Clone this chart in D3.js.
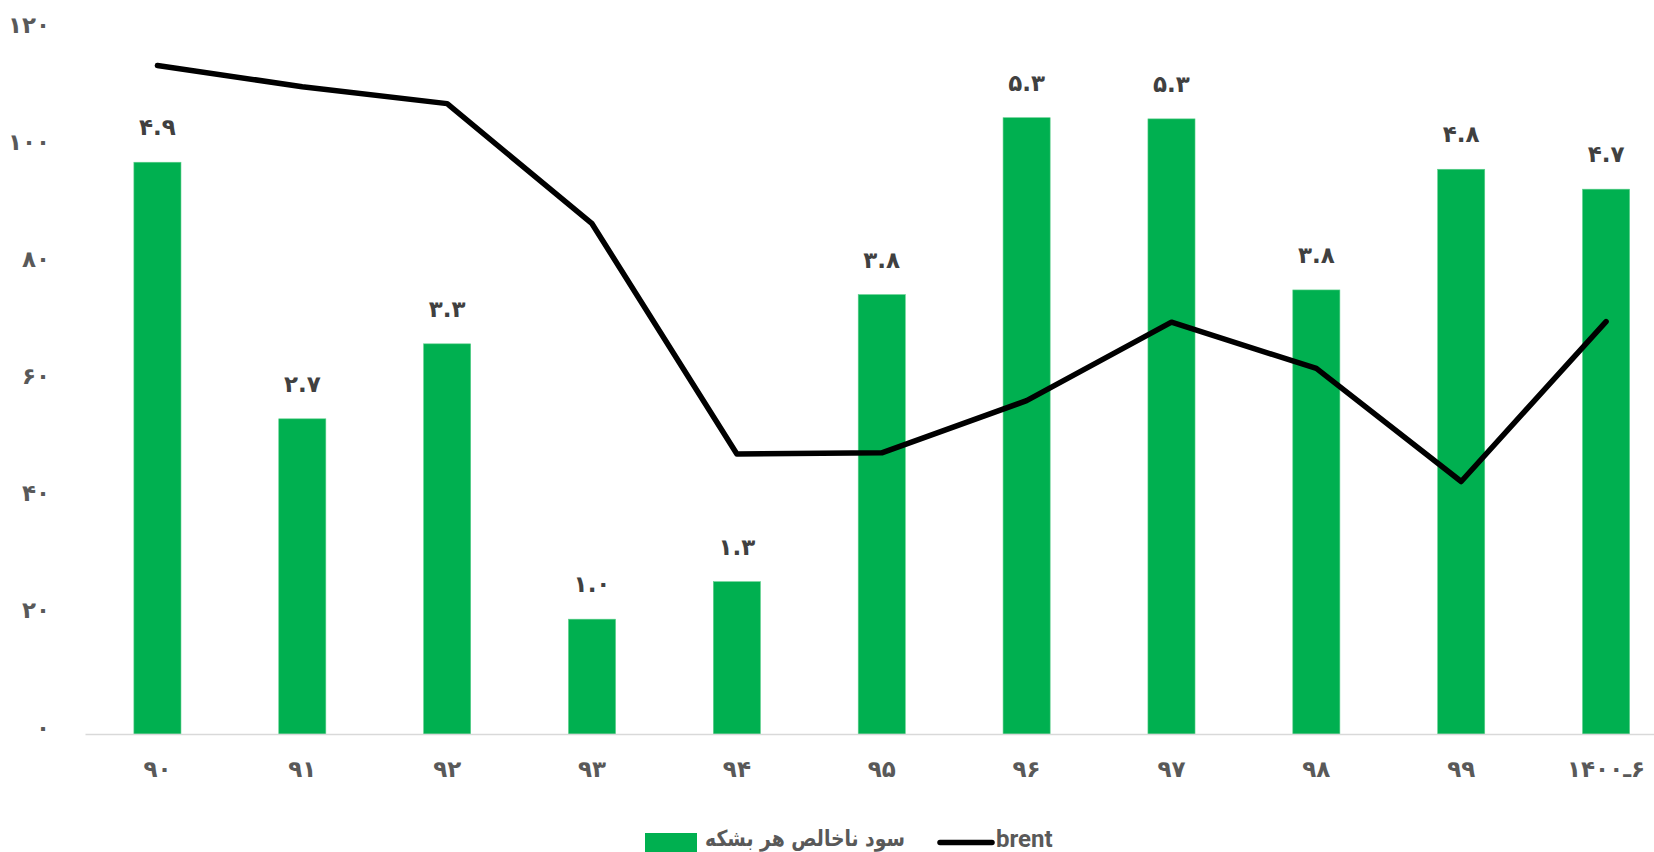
<!DOCTYPE html>
<html>
<head>
<meta charset="utf-8">
<script src="https://cdn.jsdelivr.net/npm/d3@7"></script>
<style>
    body { margin: 0; background: #fff; }
    svg text { font-family: "DejaVu Sans", sans-serif; font-weight: bold; fill: #595959; }
</style>
</head>
<body>
<svg id="drawing_region"></svg>
<script>
// years (Persian calendar)
const years = ["90", "91", "92", "93", "94", "95", "96", "97", "98", "99", "1400-6"];
// gross profit per barrel (bars, secondary axis)
const profit = [4.88, 2.69, 3.33, 0.98, 1.30, 3.75, 5.26, 5.25, 3.79, 4.82, 4.65];
// brent price (line, primary axis)
const brent = [114.1, 110.5, 107.6, 87.1, 47.8, 48.0, 56.9, 70.3, 62.4, 43.1, 70.4];
const yTicks = [0, 20, 40, 60, 80, 100, 120];
const legendNames = ["سود ناخالص هر بشکه", "brent"];

const faDigits = "۰۱۲۳۴۵۶۷۸۹";
const toFa = s => String(s).replace(/[0-9]/g, c => faDigits[+c]);
// keep "1400-6" in left-to-right order, dash drawn as a tatweel
const toFaLabel = s => s.includes('-') ? '\u202D' + toFa(s).replace('-', 'ـ') + '\u202C' : toFa(s);

const config = {
    width: 1654,
    height: 852,
    left: 85,
    right: 1678.5,
    top: 31,
    bottom: 734
};

const svg = d3.select('#drawing_region')
    .attr('width', config.width)
    .attr('height', config.height);

const xscale = d3.scaleBand()
    .domain(years)
    .range([config.left, config.right])
    .paddingInner(0.675)
    .paddingOuter(0.3375);

const yscale = d3.scaleLinear()
    .domain([0, 120])
    .range([config.bottom, config.top]);

const y2scale = d3.scaleLinear()
    .domain([0, 6])
    .range([config.bottom, config.top]);

// y axis (left)
const yaxis = d3.axisLeft(yscale)
    .tickValues(yTicks)
    .tickSize(0)
    .tickPadding(0)
    .tickFormat(d => toFa(d));
const yaxis_group = svg.append('g')
    .attr('transform', `translate(50, 0)`)
    .call(yaxis);
yaxis_group.select('.domain').remove();
yaxis_group.selectAll('text')
    .attr('font-size', 23)
    .attr('dy', '0.05em');

// bars
svg.append('g')
    .selectAll('rect')
    .data(profit)
    .join('rect')
    .attr('x', (d, i) => xscale(years[i]))
    .attr('y', d => y2scale(d))
    .attr('width', xscale.bandwidth())
    .attr('height', d => config.bottom - y2scale(d))
    .attr('fill', '#00b050')
    .attr('stroke', '#5ccf8a')
    .attr('stroke-width', 0.6);

// bar labels
svg.append('g')
    .selectAll('text')
    .data(profit)
    .join('text')
    .attr('x', (d, i) => xscale(years[i]) + xscale.bandwidth() / 2)
    .attr('y', d => y2scale(d) - 27)
    .attr('text-anchor', 'middle')
    .attr('font-size', 23)
    .style('fill', '#404040')
    .text(d => toFa(d.toFixed(1)));

// x axis
const xaxis = d3.axisBottom(xscale)
    .tickSize(0)
    .tickPadding(27)
    .tickFormat(d => toFaLabel(d));
const xaxis_group = svg.append('g')
    .attr('transform', `translate(0, ${config.bottom})`)
    .call(xaxis);
xaxis_group.select('.domain')
    .attr('stroke', '#d9d9d9')
    .attr('stroke-width', 1.5);
xaxis_group.selectAll('text')
    .attr('font-size', 23);

// brent line
const line = d3.line()
    .x((d, i) => xscale(years[i]) + xscale.bandwidth() / 2)
    .y(d => yscale(d));

svg.append('path')
    .attr('d', line(brent))
    .attr('fill', 'none')
    .attr('stroke', '#000')
    .attr('stroke-width', 5.5)
    .attr('stroke-linejoin', 'round')
    .attr('stroke-linecap', 'round');

// legend
const legend = svg.append('g');
legend.append('rect')
    .attr('x', 645).attr('y', 833)
    .attr('width', 52).attr('height', 30)
    .attr('fill', '#00b050');
legend.append('text')
    .attr('x', 905).attr('y', 846)
    .attr('text-anchor', 'end')
    .attr('font-size', 22)
    .attr('textLength', 200)
    .attr('lengthAdjust', 'spacingAndGlyphs')
    .text(legendNames[0]);
legend.append('line')
    .attr('x1', 940).attr('x2', 992)
    .attr('y1', 842.5).attr('y2', 842.5)
    .attr('stroke', '#000')
    .attr('stroke-width', 5.5)
    .attr('stroke-linecap', 'round');
legend.append('text')
    .attr('x', 996).attr('y', 847)
    .attr('font-size', 24)
    .style('font-family', 'Roboto, sans-serif')
    .text(legendNames[1]);
</script>
</body>
</html>
